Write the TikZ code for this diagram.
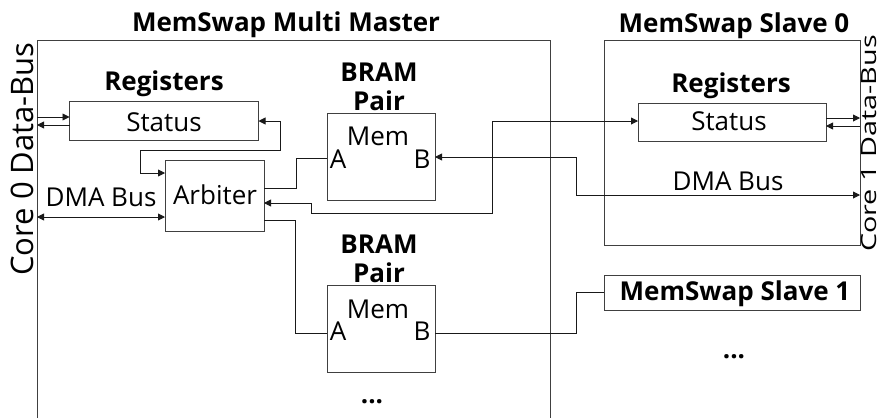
\documentclass[tikz,border=0pt]{standalone}
\usepackage{fontspec}
\setmainfont{Open Sans}
\usetikzlibrary{arrows.meta}
\begin{document}
\begin{tikzpicture}[x=1pt,y=-1pt,
  every node/.style={inner sep=0pt,outer sep=0pt},
  box/.style={draw=black!75,line width=0.9pt},
  txt/.style={font=\fontsize{26}{28}\selectfont,anchor=base},
  bold/.style={font=\fontsize{26}{28}\selectfont\bfseries,anchor=base},
  wire/.style={draw=black!90,line width=0.9pt},
  arr/.style={wire,-{Triangle[length=7pt,width=7pt]}},
  darr/.style={wire,{Triangle[length=7pt,width=7pt]}-{Triangle[length=7pt,width=7pt]}}]
\useasboundingbox (0,0) rectangle (882,418);
% master frame
\draw[box] (37,418) -- (37,40) -- (550,40) -- (550,418);
\node[bold] (mtitle) at (286,31) {MemSwap Multi Master};
\node[font=\fontsize{31}{33}\selectfont,rotate=90,anchor=base] (core0) at (33,159) {Core 0 Data-Bus};
% registers
\node[bold] (mreg) at (164,90) {Registers};
\node[box,minimum width=189pt,minimum height=39pt] (mstat) at (164,120.5) {};
\node[txt] at (164,131) {Status};
% arbiter
\node[box,minimum width=99pt,minimum height=71pt] (arb) at (214.5,195.5) {};
\node[txt] (arbt) at (215,204) {Arbiter};
\node[txt] (mdma) at (101,206) {DMA Bus};
% BRAM 1
\node[bold] (b1l1) at (379,81) {BRAM};
\node[bold] (b1l2) at (379,110) {Pair};
\node[box,minimum width=108pt,minimum height=87pt] (bram1) at (381,156.5) {};
\node[txt] (mem1) at (378,145) {Mem};
\node[txt] (a1) at (338,168) {A};
\node[txt] (bb1) at (422,168) {B};
% BRAM 2
\node[bold] (b2l1) at (379,253) {BRAM};
\node[bold] (b2l2) at (379,282) {Pair};
\node[box,minimum width=108pt,minimum height=87pt] (bram2) at (381,328.5) {};
\node[txt] (mem2) at (378,318) {Mem};
\node[txt] (a2) at (338,340) {A};
\node[txt] (bb2) at (422,340) {B};
\node[bold] (dots1) at (372,403) {...};
% slave 0
\node[box,minimum width=256pt,minimum height=205pt] (sl0) at (732,142.5) {};
\node[bold] (s0title) at (734,32) {MemSwap Slave 0};
\node[bold] (sreg) at (731,92) {Registers};
\node[box,minimum width=188pt,minimum height=38pt] (sstat) at (732,122) {};
\node[txt] at (729,130) {Status};
\node[txt] (sdma) at (728,190) {DMA Bus};
\node[font=\fontsize{21}{23}\selectfont,rotate=90,anchor=base] (core1) at (876,143.5) {\scalebox{1.37}[1]{Core 1 Data-Bus}};
% slave 1
\node[box,minimum width=256pt,minimum height=35pt] (sl1) at (732,292.5) {};
\node[bold] (sl1t) at (735,300) {MemSwap Slave 1};
\node[bold] (dots2) at (734,358) {...};
% connectors
\draw[arr] (37,117) -- (mstat.west |- 0,117);
\draw[arr] (mstat.west |- 0,125) -- (37,125);
\draw[darr] (mstat.east |- 0,121) -- (280,121) -- (280,150) -- (140,150) -- (140,173) -- (arb.west |- 0,173);
\draw[darr] (37,217) -- (arb.west |- 0,217);
\draw[wire] (arb.east |- 0,188) -- (296,188) -- (296,158) -- (bram1.west |- 0,158);
\draw[darr] (arb.east |- 0,203) -- (311,203) -- (311,213) -- (492,213) -- (492,121) -- (sstat.west |- 0,121);
\draw[wire] (arb.east |- 0,220) -- (295,220) -- (295,333) -- (bram2.west |- 0,333);
\draw[darr] (bram1.east |- 0,157) -- (576,157) -- (576,195) -- (sl0.east |- 0,195);
\draw[wire] (bram2.east |- 0,333) -- (576,333) -- (576,292.5) -- (sl1.west);
\draw[arr] (sstat.east |- 0,118) -- (sl0.east |- 0,118);
\draw[arr] (sl0.east |- 0,126) -- (sstat.east |- 0,126);
\end{tikzpicture}
\end{document}
